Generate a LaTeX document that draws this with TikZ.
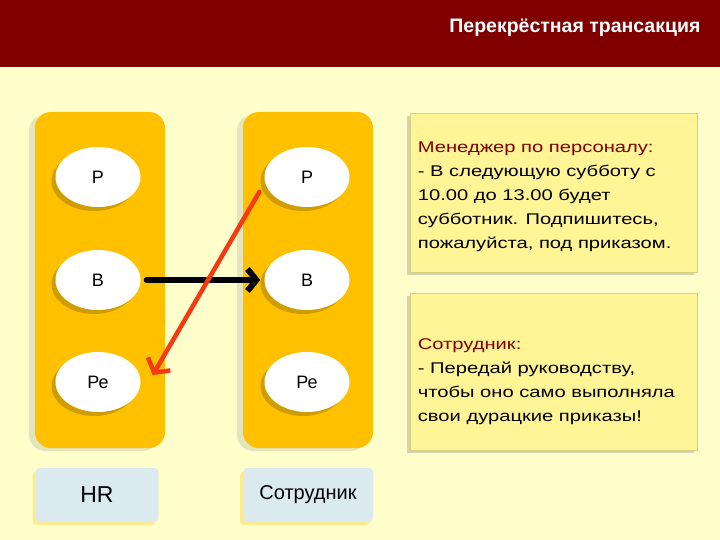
\documentclass[tikz,border=0pt]{standalone}
\usepackage{fontspec}
\setmainfont{Liberation Sans}
\usetikzlibrary{arrows.meta, positioning, shapes.geometric, shadows}
\definecolor{band}{HTML}{800000}
\definecolor{paper}{HTML}{FFFFCC}
\definecolor{amber}{HTML}{FFC000}
\definecolor{rolefill}{HTML}{DAEAEE}
\definecolor{sayfill}{HTML}{FFF496}
\definecolor{crossred}{HTML}{F53A12}
\tikzset{
  column/.style={fill=amber, rounded corners=16pt, minimum width=130pt, minimum height=336pt,
    drop shadow={shadow xshift=-6pt, shadow yshift=-3pt, opacity=.2}},
  ego/.style={ellipse, fill=white, minimum width=85pt, minimum height=60pt, inner sep=0pt,
    font=\fontsize{18}{20}\selectfont,
    drop shadow={shadow xshift=-4pt, shadow yshift=-4pt, fill=black!60!amber, opacity=.3}},
  rolebox/.style={fill=rolefill, rounded corners=4pt, minimum height=54pt, inner sep=0pt,
    drop shadow={shadow xshift=-3pt, shadow yshift=-3pt, fill=amber, opacity=.3}},
  saybox/.style={fill=sayfill, draw=sayfill!85!black, line width=.6pt,
    minimum width=287pt, inner sep=0pt,
    drop shadow={shadow xshift=-3pt, shadow yshift=-3pt, opacity=.35}},
  saytext/.style={anchor=west, align=left, inner sep=0pt,
    font=\fontsize{15.5}{24}\selectfont\addfontfeatures{FakeStretch=1.3}},
  tell/.style={draw=black, line width=6pt, line cap=round, line join=round,
    -{Straight Barb[length=9pt, width=22pt, line width=6pt]}},
  cross/.style={draw=crossred, line width=4.5pt, line cap=round, line join=round,
    -{Straight Barb[length=10pt, width=26pt, line width=4.5pt]}}
}
\begin{document}
\begin{tikzpicture}[x=1pt, y=-1pt]
  \useasboundingbox (0,0) rectangle (720,540);
  \fill[paper] (0,0) rectangle (720,540);
  \fill[band] (0,0) rectangle (720,67);
  \node[anchor=east, text=white, font=\bfseries\fontsize{19.5}{21}\selectfont] (title)
    at (704,28) {Перекрёстная трансакция};

  \node[column] (hrcol) at (100,280) {};
  \node[column] (empcol) at (308,280) {};

  \foreach \name/\txt/\y in {p/Р/177, b/В/280, pe/Ре/382} {
    \node[ego] (hr-\name) at (98,\y) {\txt};
    \node[ego] (emp-\name) at (307,\y) {\txt};
  }

  \node[rolebox, minimum width=123pt, font=\fontsize{23}{25}\selectfont] (hr) at (97,495) {HR};
  \node[rolebox, minimum width=130pt, font=\fontsize{20}{22}\selectfont] (emp) at (308,495) {Сотрудник};

  \draw[tell, shorten <=6pt, shorten >=4pt] (hr-b.east) -- (emp-b.west);
  \draw[cross] ([shift={(-5,15)}]emp-p.west) -- ([shift={(12,-7)}]hr-pe.east);

  \node[saybox, minimum height=159pt] (mgrbox) at (553.5,192.5) {};
  \node[saybox, minimum height=157pt] (empbox) at (553.5,371.5) {};

  \node[saytext] (mgrtext) at ([xshift=8pt, yshift=-4pt]mgrbox.west)
    {\textcolor{band}{Менеджер по персоналу:}\\
     - В следующую субботу с\\
     10.00 до 13.00 будет\\
     субботник. Подпишитесь,\\
     пожалуйста, под приказом.};
  \node[saytext] (emptext) at ([xshift=8pt, yshift=-10pt]empbox.west)
    {\textcolor{band}{Сотрудник:}\\
     - Передай руководству,\\
     чтобы оно само выполняла\\
     свои дурацкие приказы!};
\end{tikzpicture}
\end{document}
